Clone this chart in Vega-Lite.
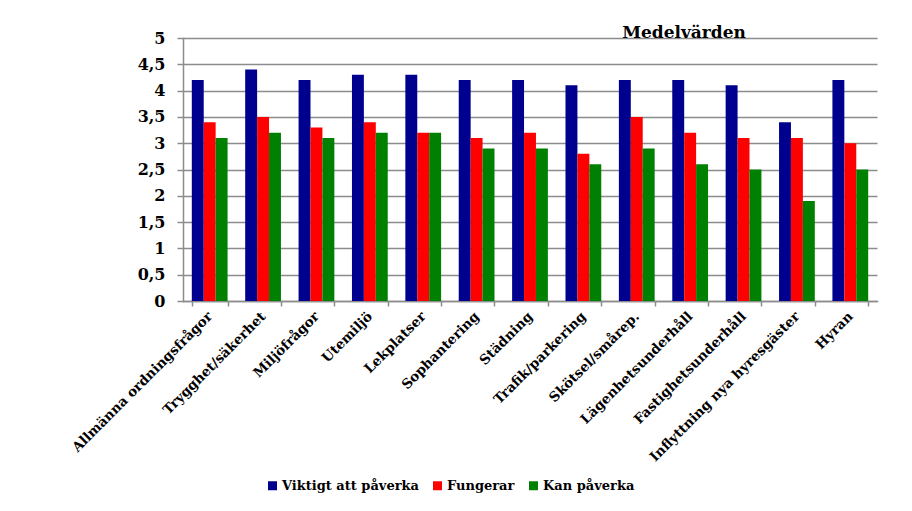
{
  "$schema": "https://vega.github.io/schema/vega-lite/v6.json",
  "autosize": "none",
  "width": 694,
  "height": 263,
  "padding": {"left": 183, "top": 38, "right": 35, "bottom": 210},
  "background": "white",
  "title": {
    "text": "Medelvärden",
    "font": "DejaVu Serif",
    "fontSize": 17,
    "fontWeight": "bold",
    "color": "#000000",
    "anchor": "middle",
    "frame": "group",
    "dx": 154,
    "offset": -12
  },
  "data": {
    "values": [
      {"omrade": "Allmänna ordningsfrågor", "serie": "Viktigt att påverka", "varde": 4.2},
      {"omrade": "Allmänna ordningsfrågor", "serie": "Fungerar", "varde": 3.4},
      {"omrade": "Allmänna ordningsfrågor", "serie": "Kan påverka", "varde": 3.1},
      {"omrade": "Trygghet/säkerhet", "serie": "Viktigt att påverka", "varde": 4.4},
      {"omrade": "Trygghet/säkerhet", "serie": "Fungerar", "varde": 3.5},
      {"omrade": "Trygghet/säkerhet", "serie": "Kan påverka", "varde": 3.2},
      {"omrade": "Miljöfrågor", "serie": "Viktigt att påverka", "varde": 4.2},
      {"omrade": "Miljöfrågor", "serie": "Fungerar", "varde": 3.3},
      {"omrade": "Miljöfrågor", "serie": "Kan påverka", "varde": 3.1},
      {"omrade": "Utemiljö", "serie": "Viktigt att påverka", "varde": 4.3},
      {"omrade": "Utemiljö", "serie": "Fungerar", "varde": 3.4},
      {"omrade": "Utemiljö", "serie": "Kan påverka", "varde": 3.2},
      {"omrade": "Lekplatser", "serie": "Viktigt att påverka", "varde": 4.3},
      {"omrade": "Lekplatser", "serie": "Fungerar", "varde": 3.2},
      {"omrade": "Lekplatser", "serie": "Kan påverka", "varde": 3.2},
      {"omrade": "Sophantering", "serie": "Viktigt att påverka", "varde": 4.2},
      {"omrade": "Sophantering", "serie": "Fungerar", "varde": 3.1},
      {"omrade": "Sophantering", "serie": "Kan påverka", "varde": 2.9},
      {"omrade": "Städning", "serie": "Viktigt att påverka", "varde": 4.2},
      {"omrade": "Städning", "serie": "Fungerar", "varde": 3.2},
      {"omrade": "Städning", "serie": "Kan påverka", "varde": 2.9},
      {"omrade": "Trafik/parkering", "serie": "Viktigt att påverka", "varde": 4.1},
      {"omrade": "Trafik/parkering", "serie": "Fungerar", "varde": 2.8},
      {"omrade": "Trafik/parkering", "serie": "Kan påverka", "varde": 2.6},
      {"omrade": "Skötsel/smårep.", "serie": "Viktigt att påverka", "varde": 4.2},
      {"omrade": "Skötsel/smårep.", "serie": "Fungerar", "varde": 3.5},
      {"omrade": "Skötsel/smårep.", "serie": "Kan påverka", "varde": 2.9},
      {"omrade": "Lägenhetsunderhåll", "serie": "Viktigt att påverka", "varde": 4.2},
      {"omrade": "Lägenhetsunderhåll", "serie": "Fungerar", "varde": 3.2},
      {"omrade": "Lägenhetsunderhåll", "serie": "Kan påverka", "varde": 2.6},
      {"omrade": "Fastighetsunderhåll", "serie": "Viktigt att påverka", "varde": 4.1},
      {"omrade": "Fastighetsunderhåll", "serie": "Fungerar", "varde": 3.1},
      {"omrade": "Fastighetsunderhåll", "serie": "Kan påverka", "varde": 2.5},
      {"omrade": "Inflyttning nya hyresgäster", "serie": "Viktigt att påverka", "varde": 3.4},
      {"omrade": "Inflyttning nya hyresgäster", "serie": "Fungerar", "varde": 3.1},
      {"omrade": "Inflyttning nya hyresgäster", "serie": "Kan påverka", "varde": 1.9},
      {"omrade": "Hyran", "serie": "Viktigt att påverka", "varde": 4.2},
      {"omrade": "Hyran", "serie": "Fungerar", "varde": 3.0},
      {"omrade": "Hyran", "serie": "Kan påverka", "varde": 2.5}
    ]
  },
  "mark": {"type": "bar"},
  "encoding": {
    "x": {
      "field": "omrade",
      "type": "nominal",
      "sort": null,
      "scale": {"paddingInner": 0.33, "paddingOuter": 0.165},
      "axis": {
        "title": null,
        "labelAngle": -45,
        "labelAlign": "right",
        "labelBaseline": "middle",
        "labelFont": "DejaVu Serif",
        "labelFontSize": 13.5,
        "labelFontWeight": "bold",
        "labelColor": "#000000",
        "labelPadding": 8,
        "labelOverlap": false,
        "labelLimit": 0,
        "tickBand": "extent",
        "tickSize": 5,
        "tickColor": "#8c8c8c",
        "tickWidth": 1.5,
        "domainColor": "#8c8c8c",
        "domainWidth": 1.5,
        "grid": false
      }
    },
    "xOffset": {
      "field": "serie",
      "type": "nominal",
      "sort": ["Viktigt att påverka", "Fungerar", "Kan påverka"],
      "scale": {"paddingInner": 0, "paddingOuter": 0}
    },
    "y": {
      "field": "varde",
      "type": "quantitative",
      "scale": {"domain": [0, 5], "nice": false},
      "axis": {
        "title": null,
        "values": [0, 0.5, 1, 1.5, 2, 2.5, 3, 3.5, 4, 4.5, 5],
        "labelExpr": "replace(toString(datum.value), '.', ',')",
        "labelFont": "DejaVu Serif",
        "labelFontSize": 16,
        "labelFontWeight": "bold",
        "labelColor": "#000000",
        "labelPadding": 12,
        "tickSize": 6,
        "tickColor": "#8c8c8c",
        "tickWidth": 1.5,
        "domainColor": "#8c8c8c",
        "domainWidth": 1.5,
        "grid": true,
        "gridColor": "#8c8c8c",
        "gridWidth": 1.5,
        "gridOpacity": 1
      }
    },
    "color": {
      "field": "serie",
      "type": "nominal",
      "sort": ["Viktigt att påverka", "Fungerar", "Kan påverka"],
      "scale": {
        "domain": ["Viktigt att påverka", "Fungerar", "Kan påverka"],
        "range": ["#00008e", "#ff0000", "#008000"]
      },
      "legend": {
        "title": null,
        "orient": "none",
        "direction": "horizontal",
        "legendX": 83,
        "legendY": 441,
        "symbolType": "square",
        "symbolSize": 81,
        "symbolStrokeWidth": 0,
        "symbolOpacity": 1,
        "labelFont": "DejaVu Serif",
        "labelFontSize": 13,
        "labelFontWeight": "bold",
        "labelColor": "#000000",
        "labelOffset": 3,
        "columnPadding": 12,
        "labelLimit": 0
      }
    }
  },
  "config": {
    "font": "DejaVu Serif",
    "view": {"stroke": null},
    "axis": {"domainCap": "square"},
    "legend": {"labelFont": "DejaVu Serif", "labelFontWeight": "bold", "labelFontSize": 13}
  }
}
